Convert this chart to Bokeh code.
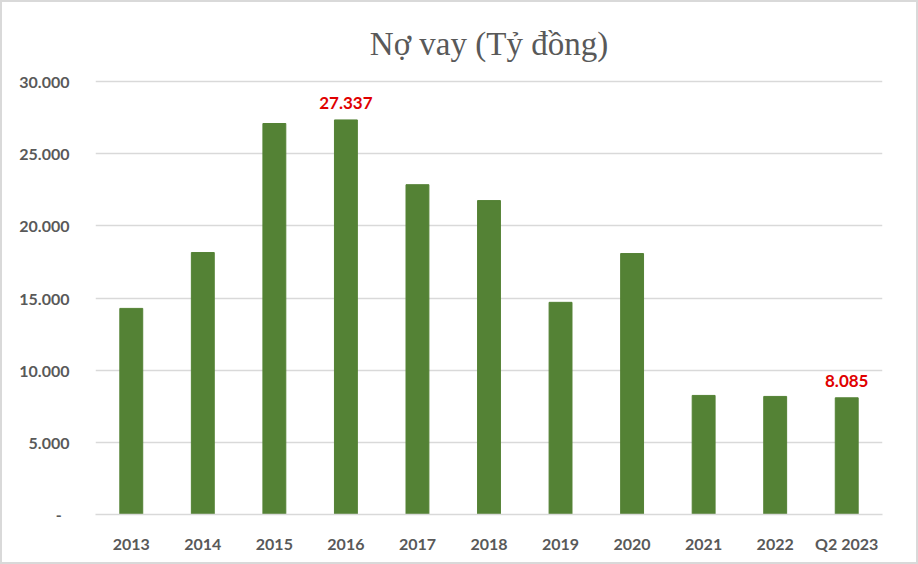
from bokeh.plotting import figure
from bokeh.models import FixedTicker, ColumnDataSource, Range1d, Label
from bokeh.embed import file_html
from bokeh.resources import INLINE
from bokeh.core.properties import value

categories = ["2013", "2014", "2015", "2016", "2017", "2018", "2019", "2020", "2021", "2022", "Q2 2023"]
values = [14280, 18150, 27090, 27337, 22850, 21750, 14700, 18080, 8250, 8180, 8085]
label_cats = ["2016", "Q2 2023"]
label_vals = [27337, 8085]
label_texts = ["27.337", "8.085"]
tick_vals = [0, 5000, 10000, 15000, 20000, 25000, 30000]
tick_labels = ["-\u00a0\u00a0", "5.000", "10.000", "15.000", "20.000", "25.000", "30.000"]
title_text = "Nợ vay (Tỷ đồng)"

# layout (pixels): frame top, 30.000 gridline, baseline
frame_top, grid_top, grid_bottom = 10, 81, 514
y_max = tick_vals[-1]
y_end = y_max * (grid_bottom - frame_top) / (grid_bottom - grid_top)

p = figure(width=918, height=564, x_range=categories, y_range=Range1d(0, y_end),
           output_backend="svg", toolbar_location=None,
           min_border_left=93, min_border_right=38, min_border_bottom=52,
           min_border_top=frame_top - 2)

title = Label(x=len(categories) / 2, y=y_max, y_offset=38, text=title_text,
              text_align="center", text_baseline="middle",
              text_font="Liberation Serif", text_font_size="33px", text_color="#595959")
p.add_layout(title)

src = ColumnDataSource(dict(x=categories, top=values))
p.vbar(x="x", top="top", width=0.32, source=src, color="#548235")

lsrc = ColumnDataSource(dict(x=label_cats, y=label_vals, t=label_texts))
p.text(x="x", y="y", text="t", source=lsrc, text_align="center", text_baseline="bottom",
       y_offset=-11, text_color="#e00000", text_font=value("Lato"),
       text_font_style="bold", text_font_size="17px")

p.yaxis.ticker = FixedTicker(ticks=tick_vals)
p.yaxis.major_label_overrides = {v: t for v, t in zip(tick_vals, tick_labels)}
p.yaxis.axis_line_color = None
p.yaxis.major_tick_line_color = None
p.yaxis.minor_tick_line_color = None
p.yaxis.major_label_standoff = 20
for ax in (p.xaxis, p.yaxis):
    ax.major_label_text_font = "Lato"
    ax.major_label_text_font_style = "bold"
    ax.major_label_text_font_size = "16px"
    ax.major_label_text_color = "#595959"

p.xaxis.axis_line_color = "#d9d9d9"
p.xaxis.axis_line_width = 1.5
p.xaxis.major_tick_line_color = None
p.xaxis.minor_tick_line_color = None
p.xaxis.major_label_standoff = 13

p.xgrid.grid_line_color = None
p.ygrid.grid_line_color = "#d9d9d9"
p.ygrid.grid_line_width = 1.5
p.outline_line_color = None
p.x_range.range_padding = 0.0
p.styles = {"border": "2px solid #d9d9d9", "box-sizing": "border-box"}

open("out.html", "w").write(file_html(p, INLINE))
